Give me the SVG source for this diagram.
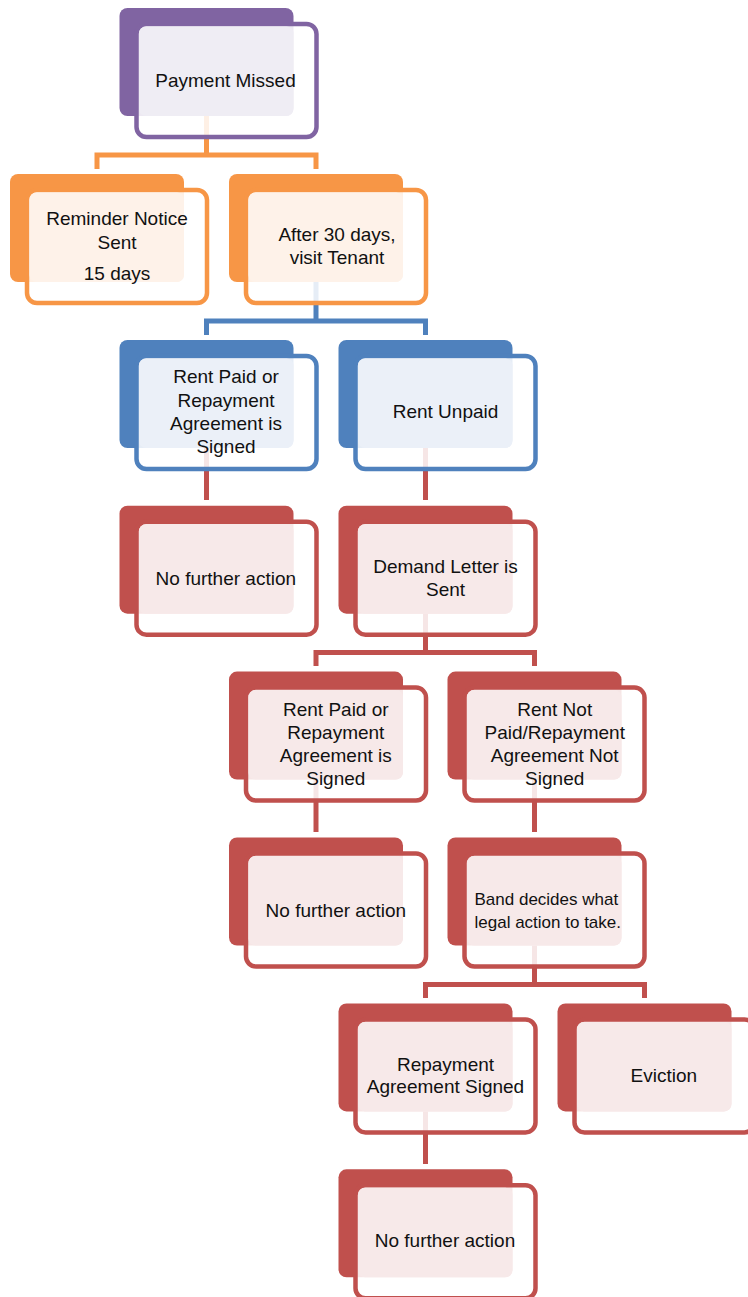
<svg xmlns="http://www.w3.org/2000/svg" width="748" height="1297" viewBox="0 0 748 1297">
<style>
  text { font-family: "Liberation Sans", Arial, sans-serif; font-size: 19px; fill: #111; text-anchor: middle; }
  text.sm { font-size: 17px; text-anchor: start; }
  .bk { stroke: none; }
  .fr { fill: #fff; fill-opacity: 0.86; stroke-width: 4.5; }
  .tn { stroke: none; }
  .purple .bk { fill: #8064A2; } .purple .fr { stroke: #8064A2; } .purple .tn { fill: #EFEDF4; }
  .orange .bk { fill: #F79646; } .orange .fr { stroke: #F79646; } .orange .tn { fill: #FEF2E9; }
  .blue .bk { fill: #4F81BD; } .blue .fr { stroke: #4F81BD; } .blue .tn { fill: #EBF0F8; }
  .red .bk { fill: #C0504D; } .red .fr { stroke: #C0504D; } .red .tn { fill: #F7E9E9; }
  .conn path { fill: none; stroke-width: 5; stroke-linejoin: miter; stroke-linecap: butt; }
  .c-orange { stroke: #F79646; } .c-blue { stroke: #4F81BD; } .c-red { stroke: #C0504D; }
</style>
<g id="connectors" class="conn">
  <path class="c-orange" d="M97 169 V155 H316 V169 M206.5 116 V155"/>
  <path class="c-blue" d="M206.5 335 V321 H425.5 V335 M316 282 V321"/>
  <path class="c-red" d="M206.5 448 V500"/>
  <path class="c-red" d="M425.5 448 V500"/>
  <path class="c-red" d="M316 666 V652.5 H534.5 V666 M425.5 613.7 V652.5"/>
  <path class="c-red" d="M316 779.6 V832"/>
  <path class="c-red" d="M534.5 779.6 V832"/>
  <path class="c-red" d="M425.5 998 V984.5 H644.5 V998 M534.5 945.5 V984.5"/>
  <path class="c-red" d="M425.5 1111.4 V1164"/>
</g>
<g id="n1" class="purple" transform="translate(119.5,8)">
  <rect class="bk" width="174" height="108" rx="8"/>
  <rect class="fr" x="17" y="16" width="180" height="113" rx="10"/>
  <rect class="tn" x="19.5" y="18.5" width="154.5" height="89.5" rx="7"/>
  <text x="106" y="79">Payment Missed</text>
</g>
<g id="n2" class="orange" transform="translate(10,174)">
  <rect class="bk" width="174" height="108" rx="8"/>
  <rect class="fr" x="17" y="16" width="180" height="113" rx="10"/>
  <rect class="tn" x="19.5" y="18.5" width="154.5" height="89.5" rx="7"/>
  <text x="107" y="51">Reminder Notice</text>
  <text x="107" y="75">Sent</text>
  <text x="107" y="105.5">15 days</text>
</g>
<g id="n3" class="orange" transform="translate(229,174)">
  <rect class="bk" width="174" height="108" rx="8"/>
  <rect class="fr" x="17" y="16" width="180" height="113" rx="10"/>
  <rect class="tn" x="19.5" y="18.5" width="154.5" height="89.5" rx="7"/>
  <text x="108" y="66.7">After 30 days,</text>
  <text x="108" y="90.3">visit Tenant</text>
</g>
<g id="n4" class="blue" transform="translate(119.5,340)">
  <rect class="bk" width="174" height="108" rx="8"/>
  <rect class="fr" x="17" y="16" width="180" height="113" rx="10"/>
  <rect class="tn" x="19.5" y="18.5" width="154.5" height="89.5" rx="7"/>
  <text x="106.5" y="43.3">Rent Paid or</text>
  <text x="106.5" y="67.3">Repayment</text>
  <text x="106.5" y="90">Agreement is</text>
  <text x="106.5" y="112.7">Signed</text>
</g>
<g id="n5" class="blue" transform="translate(338.5,340)">
  <rect class="bk" width="174" height="108" rx="8"/>
  <rect class="fr" x="17" y="16" width="180" height="113" rx="10"/>
  <rect class="tn" x="19.5" y="18.5" width="154.5" height="89.5" rx="7"/>
  <text x="107" y="78.3">Rent Unpaid</text>
</g>
<g id="n6" class="red" transform="translate(119.5,505.7)">
  <rect class="bk" width="174" height="108" rx="8"/>
  <rect class="fr" x="17" y="16" width="180" height="113" rx="10"/>
  <rect class="tn" x="19.5" y="18.5" width="154.5" height="89.5" rx="7"/>
  <text x="106.3" y="79.3">No further action</text>
</g>
<g id="n7" class="red" transform="translate(338.5,505.7)">
  <rect class="bk" width="174" height="108" rx="8"/>
  <rect class="fr" x="17" y="16" width="180" height="113" rx="10"/>
  <rect class="tn" x="19.5" y="18.5" width="154.5" height="89.5" rx="7"/>
  <text x="107" y="67">Demand Letter is</text>
  <text x="107" y="90.3">Sent</text>
</g>
<g id="n8" class="red" transform="translate(229,671.6)">
  <rect class="bk" width="174" height="108" rx="8"/>
  <rect class="fr" x="17" y="16" width="180" height="113" rx="10"/>
  <rect class="tn" x="19.5" y="18.5" width="154.5" height="89.5" rx="7"/>
  <text x="106.8" y="44.4">Rent Paid or</text>
  <text x="106.8" y="67.1">Repayment</text>
  <text x="106.8" y="90.1">Agreement is</text>
  <text x="106.8" y="113.4">Signed</text>
</g>
<g id="n9" class="red" transform="translate(447.5,671.6)">
  <rect class="bk" width="174" height="108" rx="8"/>
  <rect class="fr" x="17" y="16" width="180" height="113" rx="10"/>
  <rect class="tn" x="19.5" y="18.5" width="154.5" height="89.5" rx="7"/>
  <text x="107.2" y="44.4">Rent Not</text>
  <text x="107.2" y="67.1">Paid/Repayment</text>
  <text x="107.2" y="90.1">Agreement Not</text>
  <text x="107.2" y="113.4">Signed</text>
</g>
<g id="n10" class="red" transform="translate(229,837.5)">
  <rect class="bk" width="174" height="108" rx="8"/>
  <rect class="fr" x="17" y="16" width="180" height="113" rx="10"/>
  <rect class="tn" x="19.5" y="18.5" width="154.5" height="89.5" rx="7"/>
  <text x="106.8" y="79.3">No further action</text>
</g>
<g id="n11" class="red" transform="translate(447.5,837.5)">
  <rect class="bk" width="174" height="108" rx="8"/>
  <rect class="fr" x="17" y="16" width="180" height="113" rx="10"/>
  <rect class="tn" x="19.5" y="18.5" width="154.5" height="89.5" rx="7"/>
  <text class="sm" x="27" y="67.5">Band decides what</text>
  <text class="sm" x="27" y="90.8">legal action to take.</text>
</g>
<g id="n12" class="red" transform="translate(338.5,1003.4)">
  <rect class="bk" width="174" height="108" rx="8"/>
  <rect class="fr" x="17" y="16" width="180" height="113" rx="10"/>
  <rect class="tn" x="19.5" y="18.5" width="154.5" height="89.5" rx="7"/>
  <text x="107" y="67.3">Repayment</text>
  <text x="107" y="90">Agreement Signed</text>
</g>
<g id="n13" class="red" transform="translate(557.5,1003.4)">
  <rect class="bk" width="174" height="108" rx="8"/>
  <rect class="fr" x="17" y="16" width="180" height="113" rx="10"/>
  <rect class="tn" x="19.5" y="18.5" width="154.5" height="89.5" rx="7"/>
  <text x="106.3" y="78.3">Eviction</text>
</g>
<g id="n14" class="red" transform="translate(338.5,1169.3)">
  <rect class="bk" width="174" height="108" rx="8"/>
  <rect class="fr" x="17" y="16" width="180" height="113" rx="10"/>
  <rect class="tn" x="19.5" y="18.5" width="154.5" height="89.5" rx="7"/>
  <text x="106.5" y="78">No further action</text>
</g>
</svg>
